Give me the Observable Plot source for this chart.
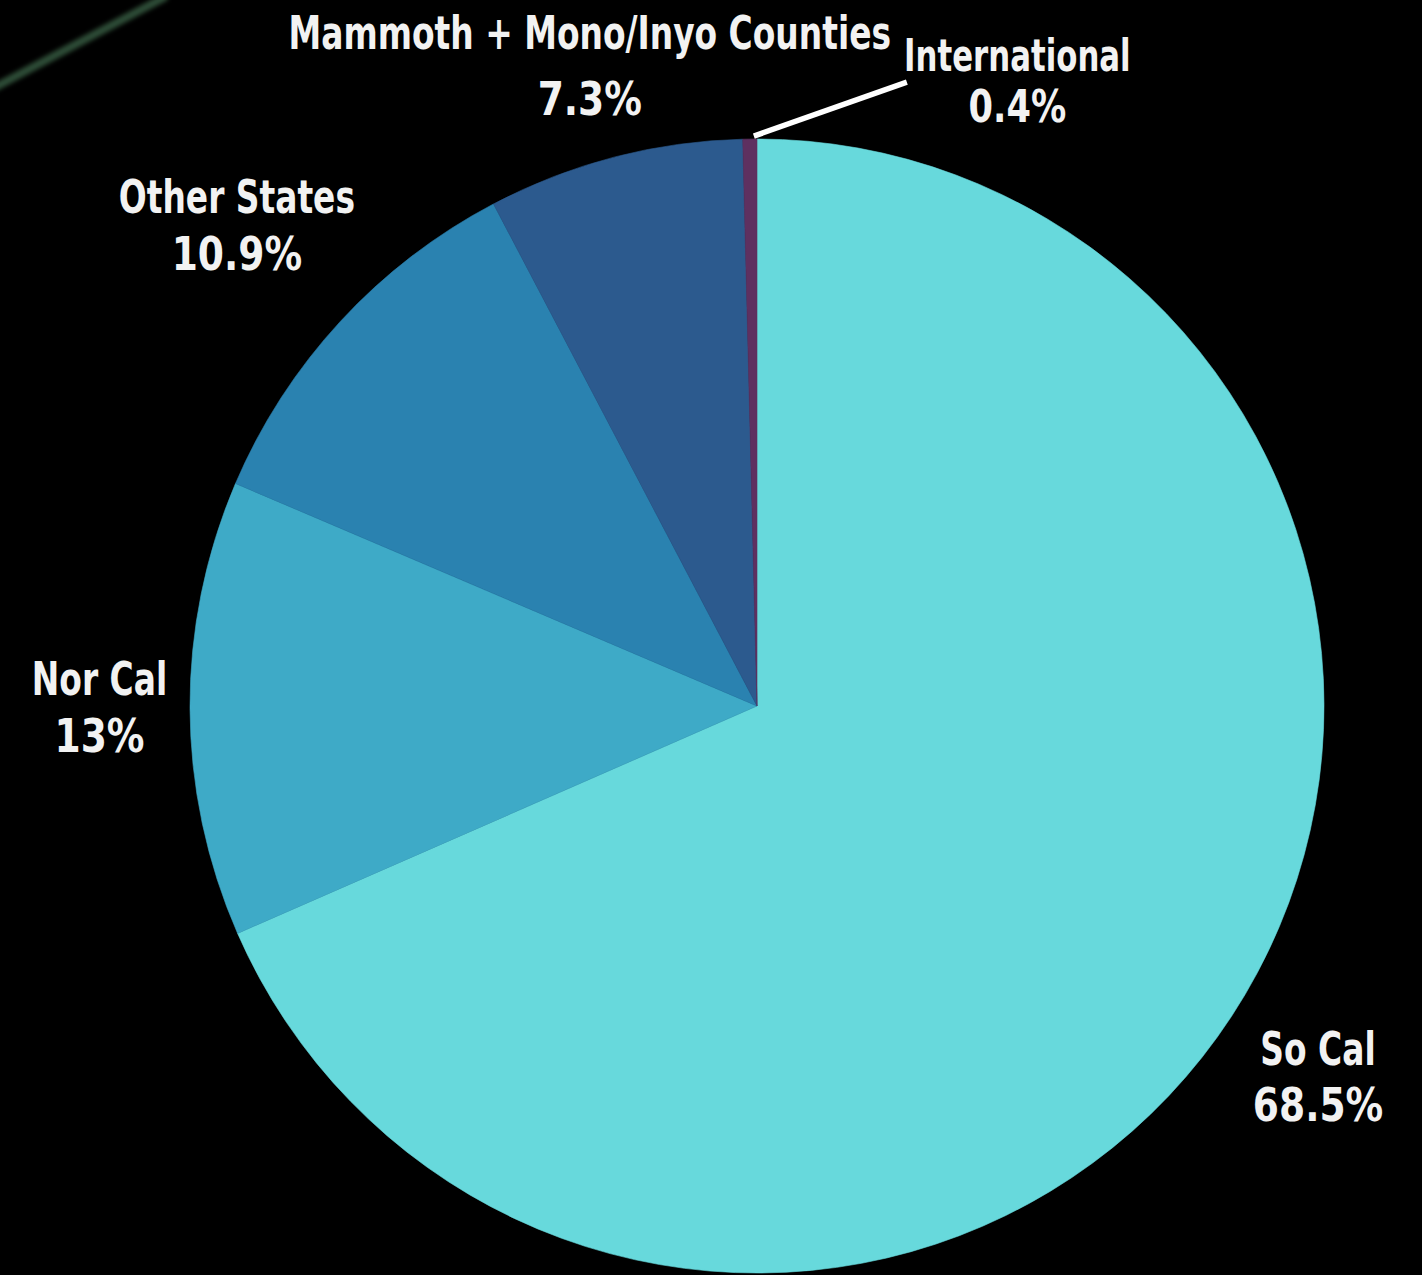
<!DOCTYPE html>
<html>
<head>
<meta charset="utf-8">
<script src="https://cdn.jsdelivr.net/npm/d3@7"></script>
<script src="https://cdn.jsdelivr.net/npm/@observablehq/plot@0.6"></script>
<style>
  html, body { margin: 0; padding: 0; background: #000; }
  #chart { position: relative; width: 1422px; height: 1275px; overflow: hidden; background: #000; }
  #chart svg { display: block; position: relative; }
  .streak { position: absolute; height: 8px; background: rgba(60,100,72,0.75); filter: blur(2px); transform-origin: 0 50%; }
</style>
</head>
<body>
<div id="chart">
  <div class="streak" style="left:-10px; top:86px; width:200px; transform: rotate(-28deg);"></div>
</div>
<script>
// ---- data ----
const regions = ["So Cal", "Nor Cal", "Other States", "Mammoth + Mono/Inyo Counties", "International"];
const shares  = [68.5, 13, 10.9, 7.3, 0.4];
const shareLabels = ["68.5%", "13%", "10.9%", "7.3%", "0.4%"];
const sliceColors = ["#67d9dc", "#3eaac7", "#2a82b0", "#2c5a8e", "#5e3060"];

// ---- layout (pixels) ----
const W = 1422, H = 1275, CX = 757, CY = 706, R = 567;

const pie = d3.pie().sort(null).value(d => d.share);
const rows = regions.map((name, i) => ({name, share: shares[i], label: shareLabels[i]}));
const arcs = pie(rows);
// label anchors (unit = radius) from slice mid-angle, then pixel nudges
const labelTweaks = {
  "So Cal":        {r: 1.12, dx: 29,  dy: 24,   gap: 28,   size: 47},
  "Nor Cal":       {r: 1.12, dx: -23, dy: -1.5, gap: 28.5, size: 47},
  "Other States":  {r: 1.12, dx: -54, dy: -49.5, gap: 28.5, size: 47},
  "Mammoth + Mono/Inyo Counties": {r: 1.12, dx: -8, dy: -25, gap: 33, size: 47},
  "International": {r: 1.0, dx: 267, dy: -57, gap: 25.5, size: 44}
};
const labelData = arcs.map(a => {
  const mid = (a.startAngle + a.endAngle) / 2;
  const t = labelTweaks[a.data.name];
  return {
    name: a.data.name, label: a.data.label,
    x: Math.sin(mid) * t.r, y: Math.cos(mid) * t.r,
    dx: t.dx, dy: t.dy, gap: t.gap, size: t.size
  };
});

const font = "'DejaVu Sans', sans-serif";

function pieMark(index, scales) {
  const cx = scales.x(0), cy = scales.y(0);
  const r = scales.x(1) - scales.x(0);
  const arc = d3.arc().innerRadius(0).outerRadius(r);
  const g = d3.create("svg:g").attr("transform", `translate(${cx},${cy})`);
  g.selectAll("path").data(arcs).join("path")
    .attr("d", arc)
    .attr("fill", d => scales.color(d.data.name))
    .attr("stroke", d => scales.color(d.data.name))
    .attr("stroke-width", 0.6);
  return g.node();
}

function leaderMark(index, scales) {
  const cx = scales.x(0), cy = scales.y(0);
  const r = scales.x(1) - scales.x(0);
  const a = arcs[arcs.length - 1];
  const mid = (a.startAngle + a.endAngle) / 2;
  const x1 = cx + Math.sin(mid) * (r + 3) + 4, y1 = cy - Math.cos(mid) * (r + 3);
  const x2 = x1 + 153, y2 = y1 - 54;
  return d3.create("svg:line")
    .attr("x1", x1).attr("y1", y1).attr("x2", x2).attr("y2", y2)
    .attr("stroke", "#ffffff").attr("stroke-width", 5.5).node();
}

function labelText(field, sign, sx) {
  return Plot.text(labelData, {
    x: "x", y: "y",
    text: field,
    fill: "#f2f2f2", fontWeight: "bold", fontFamily: font,
    render: (index, scales, values, dimensions, context, next) => {
      const g = next(index, scales, values, dimensions, context);
      d3.select(g).selectAll("text").each(function(_, j) {
        const d = labelData[index[j]];
        const cur = d3.select(this).attr("transform") || "";
        d3.select(this)
          .attr("font-size", d.size)
          .attr("transform", cur + ` translate(${d.dx},${d.dy + sign * d.gap}) scale(${sx},1)`);
      });
      return g;
    }
  });
}

const chart = Plot.plot({
  width: W, height: H,
  margin: 0,
  style: {background: "transparent", overflow: "visible"},
  x: {domain: [-CX / R, (W - CX) / R], axis: null},
  y: {domain: [-(H - CY) / R, CY / R], axis: null},
  color: {domain: regions, range: sliceColors},
  marks: [
    pieMark,
    leaderMark,
    labelText("name", -1, 0.70),
    labelText("label", 1, 0.80)
  ]
});
document.getElementById("chart").append(chart);
</script>
</body>
</html>
